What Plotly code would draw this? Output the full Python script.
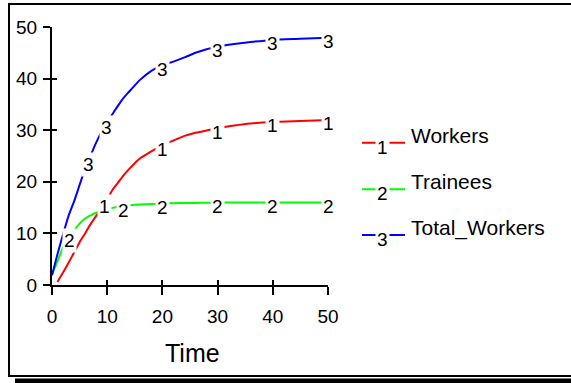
import numpy as np
import plotly.graph_objects as go

# ---------------- data ----------------
time = [0, 1, 2, 3, 4, 5, 6, 7, 8, 9, 10, 11, 12, 13, 14, 15, 16, 18, 20,
        22, 24, 26, 28, 30, 33, 36, 40, 45, 50]
workers = [None, 0.6, 2.4, 4.3, 6.3, 8.3, 10.0, 11.8, 13.4, 15.0, 16.6, 18.5,
           19.9, 21.3, 22.5, 23.6, 24.6, 25.9, 27.1, 28.0, 28.9, 29.5, 29.95,
           30.4, 30.9, 31.3, 31.6, 31.8, 32.0]
trainees = [2.0, 4.6, 7.3, 9.0, 10.6, 11.9, 12.9, 13.5, 14.0, 14.4, 14.7, 14.95,
            15.15, 15.3, 15.45, 15.55, 15.6, 15.7, 15.8, 15.85, 15.9, 15.9,
            15.95, 15.95, 16.0, 16.0, 16.0, 16.0, 16.0]
total_workers = [1.9, 6.0, 9.8, 13.4, 16.2, 19.4, 22.5, 25.1, 27.6, 29.7, 31.5,
                 33.2, 34.8, 36.3, 37.5, 38.7, 39.8, 41.5, 42.6, 43.3, 44.1,
                 45.0, 45.7, 46.2, 46.7, 47.1, 47.5, 47.7, 47.9]

series_names = ["Workers", "Trainees", "Total_Workers"]
series_ids = ["1", "2", "3"]
label_times_workers = [9.6, 20, 30, 40, 50]
label_times_trainees = [3.2, 13.0, 20, 30, 40, 50]
label_times_total = [6.6, 9.9, 20, 30, 40, 50]
x_ticks = [0, 10, 20, 30, 40, 50]
y_ticks = [0, 10, 20, 30, 40, 50]

# ---------------- layout constants ----------------
W, H = 571, 383
ML, MR, MT, MB = 52, 243, 27, 98
PW, PH = W - ML - MR, H - MT - MB
FONT = "Liberation Sans, Arial, sans-serif"
colors = ["#ff0000", "#00ff00", "#0000ff"]


def px(xp):
    return (xp - ML) / PW


def py(yp):
    return (H - MB - yp) / PH


fig = go.Figure()
series = [workers, trainees, total_workers]
for vals, name, c in zip(series, series_names, colors):
    fig.add_trace(go.Scatter(x=time, y=vals, mode="lines", name=name,
                             line=dict(color=c, width=2, shape="spline",
                                       smoothing=0.6),
                             showlegend=False, connectgaps=False,
                             hoverinfo="skip"))
# dummy trace for the overlaid inner-tick axes
fig.add_trace(go.Scatter(x=[None], y=[None], xaxis="x2", yaxis="y2",
                         showlegend=False, hoverinfo="skip"))

annotations = []
label_sets = [label_times_workers, label_times_trainees, label_times_total]
for vals, lid, times in zip(series, series_ids, label_sets):
    tv = [t for t, v in zip(time, vals) if v is not None]
    vv = [v for v in vals if v is not None]
    for t in times:
        yv = float(np.interp(t, tv, vv))
        annotations.append(dict(x=t, y=yv, xref="x", yref="y", text=lid,
                                showarrow=False, yshift=-4,
                                font=dict(family=FONT, size=19, color="black"),
                                bgcolor="white", borderpad=1,
                                xanchor="center", yanchor="middle"))

shapes = []
# outer frame and shadow
shapes.append(dict(type="rect", xref="paper", yref="paper",
                   x0=px(9), x1=px(600), y0=py(4), y1=py(376),
                   line=dict(color="black", width=2), fillcolor="rgba(0,0,0,0)",
                   layer="below"))
shapes.append(dict(type="rect", xref="paper", yref="paper",
                   x0=px(15), x1=px(600), y0=py(378.5), y1=py(395),
                   line=dict(width=0), fillcolor="black", layer="below"))

# custom legend
leg_line_y = [142.7, 189.3, 235]
for name, lid, c, ly in zip(series_names, series_ids, colors, leg_line_y):
    shapes.append(dict(type="line", xref="paper", yref="paper",
                       x0=px(362), x1=px(405), y0=py(ly), y1=py(ly),
                       line=dict(color=c, width=2)))
    annotations.append(dict(x=px(382), y=py(ly + 4.5), xref="paper", yref="paper",
                            text=lid, showarrow=False,
                            font=dict(family=FONT, size=19, color="black"),
                            bgcolor="white", borderpad=1,
                            xanchor="center", yanchor="middle"))
    annotations.append(dict(x=px(409), y=py(ly - 7.5), xref="paper", yref="paper",
                            text=name, showarrow=False,
                            font=dict(family=FONT, size=21, color="black"),
                            xanchor="left", yanchor="middle"))

# axis title
annotations.append(dict(x=px(192.5), y=py(352.5), xref="paper", yref="paper",
                        text="Time", showarrow=False,
                        font=dict(family=FONT, size=25, color="black"),
                        xanchor="center", yanchor="middle"))

axis_common = dict(showgrid=False, zeroline=False, showline=True,
                   linecolor="black", linewidth=2, ticks="outside",
                   tickcolor="black", tickwidth=2, fixedrange=True,
                   tickfont=dict(family=FONT, size=19, color="black"))

fig.update_layout(
    width=W, height=H,
    margin=dict(l=ML, r=MR, t=MT, b=MB, pad=0),
    paper_bgcolor="white", plot_bgcolor="white",
    xaxis=dict(range=[0, 50], tickvals=x_ticks, ticklen=8,
               ticklabelstandoff=5, **axis_common),
    yaxis=dict(range=[0, 50], tickvals=y_ticks, ticklen=7,
               ticklabelstandoff=2, **axis_common),
    xaxis2=dict(range=[0, 50], tickvals=x_ticks, overlaying="x", anchor="y2",
                side="bottom", ticks="inside", ticklen=5, tickwidth=2,
                tickcolor="black", showticklabels=False, showline=False,
                showgrid=False, zeroline=False, fixedrange=True),
    yaxis2=dict(range=[0, 50], tickvals=y_ticks, overlaying="y", anchor="x2",
                side="left", ticks="inside", ticklen=5, tickwidth=2,
                tickcolor="black", showticklabels=False, showline=False,
                showgrid=False, zeroline=False, fixedrange=True),
    shapes=shapes,
    annotations=annotations,
    showlegend=False,
)

fig.write_html(
    "out.html",
    config={"displayModeBar": False},
    post_script="document.body.style.margin='0';document.body.style.padding='0';"
                "document.body.style.overflow='hidden';",
)
